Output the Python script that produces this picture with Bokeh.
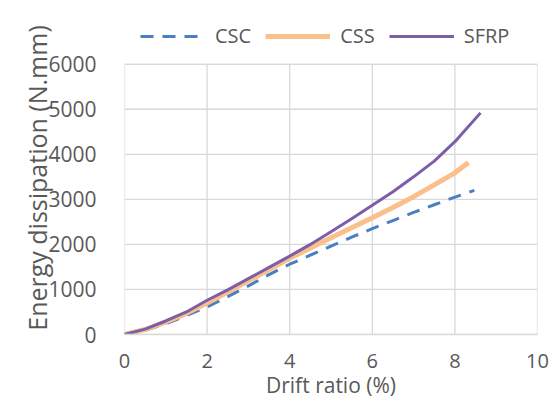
from bokeh.plotting import figure
from bokeh.models import Legend, LegendItem, FixedTicker, Range1d
from bokeh.embed import file_html
from bokeh.resources import INLINE

csc_x = [0, 0.5, 1, 1.5, 2, 2.5, 3, 3.5, 4, 4.5, 5, 5.5, 6, 6.5, 7, 7.5, 8, 8.47]
csc_y = [0, 90, 240, 420, 610, 840, 1080, 1330, 1560, 1760, 1960, 2160, 2350, 2530, 2710, 2880, 3050, 3200]
css_x = [0, 0.5, 1, 1.5, 2, 2.5, 3, 3.5, 4, 4.5, 5, 5.5, 6, 6.5, 7, 7.5, 8, 8.33]
css_y = [0, 110, 280, 470, 700, 940, 1190, 1440, 1690, 1920, 2150, 2370, 2590, 2820, 3060, 3320, 3590, 3820]
sfrp_x = [0, 0.5, 1, 1.5, 2, 2.5, 3, 3.5, 4, 4.5, 5, 5.5, 6, 6.5, 7, 7.5, 8, 8.62]
sfrp_y = [0, 120, 300, 500, 760, 990, 1240, 1490, 1740, 2000, 2280, 2570, 2870, 3170, 3500, 3850, 4280, 4920]

series_names = ["CSC", "CSS", "SFRP"]
x_ticks = [0, 2, 4, 6, 8, 10]
y_ticks = [0, 1000, 2000, 3000, 4000, 5000, 6000]

FONT = "Open Sans"
GRAY = "#595959"
GRID = "#d9d9d9"
styles = [dict(line_color="#4a7fc1", line_width=3, line_dash="13 9"),
          dict(line_color="#fbbf8c", line_width=5),
          dict(line_color="#7d5ea8", line_width=3)]

# frame extends above 6000 to leave room for the legend strip
y_top = y_ticks[-1] * (1 + 43 / 272)
p = figure(width=557, height=401, output_backend="svg", toolbar_location=None,
           x_range=Range1d(x_ticks[0], x_ticks[-1]), y_range=Range1d(y_ticks[0], y_top),
           min_border_left=124, min_border_right=20, min_border_top=21, min_border_bottom=65)
p.outline_line_color = None
p.background_fill_color = "white"
p.border_fill_color = "white"
p.grid.visible = False

# gridlines limited to the data area
p.segment(x0=x_ticks, y0=[y_ticks[0]] * len(x_ticks), x1=x_ticks, y1=[y_ticks[-1]] * len(x_ticks),
          line_color=GRID, line_width=1.3)
p.segment(x0=[x_ticks[0]] * len(y_ticks), y0=y_ticks, x1=[x_ticks[-1]] * len(y_ticks), y1=y_ticks,
          line_color=GRID, line_width=1.3)

renderers = [p.line(csc_x, csc_y, **styles[0]),
             p.line(css_x, css_y, **styles[1]),
             p.line(sfrp_x, sfrp_y, **styles[2])]

p.xaxis.ticker = FixedTicker(ticks=x_ticks)
p.yaxis.ticker = FixedTicker(ticks=y_ticks)
p.yaxis.bounds = (y_ticks[0], y_ticks[-1])

for ax in (p.xaxis, p.yaxis):
    ax.major_tick_line_color = None
    ax.minor_tick_line_color = None
    ax.major_label_text_font = FONT
    ax.major_label_text_color = GRAY
    ax.axis_label_text_font = FONT
    ax.axis_label_text_color = GRAY
    ax.axis_label_text_font_style = "normal"

p.xaxis.major_label_text_font_size = "20px"
p.yaxis.major_label_text_font_size = "21px"
p.xaxis.axis_label_text_font_size = "21px"
p.yaxis.axis_label_text_font_size = "25px"
p.xaxis.axis_line_color = GRID
p.xaxis.axis_line_width = 1.3
p.yaxis.axis_line_color = None
p.xaxis.axis_label = "Drift ratio (%)"
p.yaxis.axis_label = "Energy dissipation (N.mm)"
p.xaxis.major_label_standoff = 13
p.yaxis.major_label_standoff = 22
p.xaxis.axis_label_standoff = 0
p.yaxis.axis_label_standoff = -9

legend = Legend(items=[LegendItem(label=n, renderers=[r]) for n, r in zip(series_names, renderers)],
                orientation="horizontal", location=(16, 285),
                glyph_width=65, glyph_height=26, label_standoff=10, spacing=14,
                padding=0, margin=0, border_line_color=None,
                background_fill_alpha=0,
                label_text_font=FONT, label_text_font_size="20px", label_text_color=GRAY)
p.add_layout(legend, "center")

open("out.html", "w").write(file_html(p, INLINE))
